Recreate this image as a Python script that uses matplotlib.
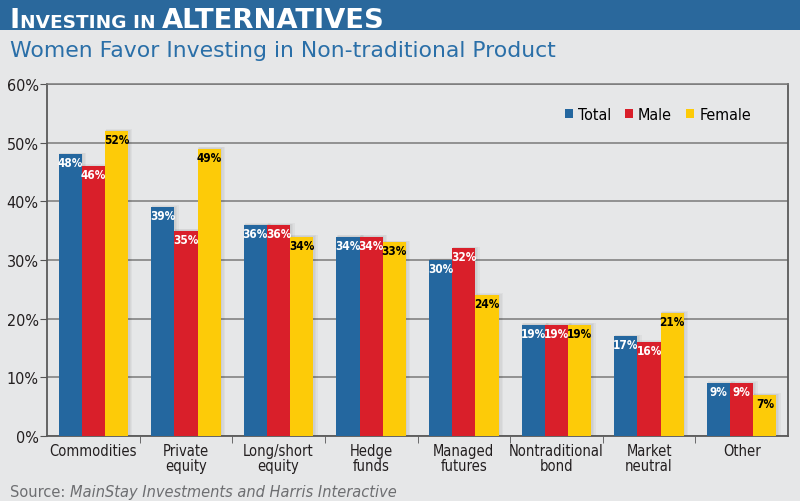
import numpy as np
import matplotlib.pyplot as plt
from matplotlib import font_manager
from matplotlib.font_manager import FontProperties
from matplotlib.patches import Rectangle, Patch

categories = ['Commodities', 'Private\nequity', 'Long/short\nequity', 'Hedge\nfunds',
              'Managed\nfutures', 'Nontraditional\nbond', 'Market\nneutral', 'Other']
total = [48, 39, 36, 34, 30, 19, 17, 9]
male = [46, 35, 36, 34, 32, 19, 16, 9]
female = [52, 49, 34, 33, 24, 19, 21, 7]
series_names = ['Total', 'Male', 'Female']
y_ticks = [0, 10, 20, 30, 40, 50, 60]

blue = '#24679f'
red = '#d91f2a'
yellow = '#fdcb08'
bg = '#e6e7e8'
ink = '#231f20'

# look for a condensed face, otherwise fall back to Roboto
cond_reg = cond_bold = None
for f in font_manager.fontManager.ttflist:
    fn = f.fname.lower()
    if ('condensed' in fn or 'narrow' in fn) and 'oblique' not in fn and 'italic' not in fn:
        if f.weight in ('bold', 700) or 'bold' in fn:
            cond_bold = cond_bold or f.fname
        else:
            cond_reg = cond_reg or f.fname
if cond_reg and cond_bold:
    lab_fp = lambda s: FontProperties(fname=cond_reg, size=s)
    bold_fp = lambda s: FontProperties(fname=cond_bold, size=s)
    tick_size, bar_size = 10.5, 8.5
else:
    lab_fp = lambda s: FontProperties(family='Roboto', size=s)
    bold_fp = lambda s: FontProperties(family='Roboto', weight='bold', size=s)
    tick_size, bar_size = 10, 8

fig = plt.figure(figsize=(8, 5.02), dpi=100, facecolor=bg)

# header band
fig.patches.append(Rectangle((0, 1 - 31 / 502), 1, 31 / 502, transform=fig.transFigure,
                             facecolor='#2a689c', edgecolor='none', zorder=0))

renderer = fig.canvas.get_renderer()

def put(x, y, s, **kw):
    t = fig.text(x / 800, 1 - y / 502, s, transform=fig.transFigure, va='baseline', **kw)
    return t, x + t.get_window_extent(renderer).width

def run(x, y, parts, target):
    # draw pieces side by side, then rescale so the whole line spans target px
    texts = []
    x0 = x
    for s, kw in parts:
        t, x = put(x, y, s, **kw)
        texts.append((t, kw['fontsize']))
    k = target / (x - x0)
    x = x0
    for t, fs in texts:
        t.set_fontsize(fs * k)
        t.set_x(x / 800)
        x += t.get_window_extent(renderer).width

hdr = dict(weight='bold', color='white', family='DejaVu Sans')
run(10, 28, [('I', dict(fontsize=17, **hdr)), ('NVESTING IN ', dict(fontsize=11.5, **hdr)),
             ('ALTERNATIVES', dict(fontsize=17, **hdr))], 375)

run(10, 57, [('Women Favor Investing in Non-traditional Product',
              dict(fontsize=14, color='#2a6fa8', family='DejaVu Sans'))], 545)

src = dict(color='#6d6e71', family='DejaVu Sans')
run(10, 497, [('Source: ', dict(fontsize=10, **src)),
              ('MainStay Investments and Harris Interactive', dict(fontsize=10, style='italic', **src))], 385)

ax = fig.add_axes([47 / 800, 1 - 437 / 502, 741 / 800, 352 / 502])
ax.set_facecolor(bg)

x = np.arange(len(categories))
w = 0.25
series = [total, male, female]
colors = [blue, red, yellow]
text_colors = ['white', 'white', 'black']

for i, (vals, c, tc) in enumerate(zip(series, colors, text_colors)):
    pos = x + (i - 1) * w
    # soft shadow
    for k in range(1, 4):
        ax.bar(pos + 0.01 * k, np.array(vals) + 0.1 * k, width=w + 0.012 * k, color='#000000',
               alpha=0.035, zorder=2, linewidth=0)
    bars = ax.bar(pos, vals, width=w, color=c, zorder=3, linewidth=0)
    for b, v in zip(bars, vals):
        ax.annotate(f'{v}%', (b.get_x() + b.get_width() / 2, v), xytext=(0, -1.5),
                    textcoords='offset points', ha='center', va='top',
                    fontproperties=bold_fp(bar_size), color=tc, zorder=4)

ax.set_xlim(-0.5, len(categories) - 0.5)
ax.set_ylim(0, 60)
ax.set_yticks(y_ticks)
ax.set_yticklabels([f'{v}%' for v in y_ticks], fontproperties=lab_fp(tick_size + 1), color=ink)
ax.yaxis.grid(True, color='#7a7a7a', linewidth=1.1, zorder=1)
ax.set_axisbelow(True)
ax.set_xticks(x)
ax.set_xticklabels(categories, fontproperties=lab_fp(tick_size), linespacing=1.0, color=ink)
ax.set_xticks(x[:-1] + 0.5, minor=True)
ax.tick_params(axis='x', which='major', length=0, pad=5)
ax.tick_params(axis='x', which='minor', length=5, color='#555555')
ax.tick_params(axis='y', length=5, color='#555555', pad=1)

for s in ['left', 'bottom', 'right']:
    ax.spines[s].set_color('#5a5a5a')
    ax.spines[s].set_linewidth(1.3)
ax.spines['top'].set_color('#7a7a7a')
ax.spines['top'].set_linewidth(1.1)

handles = [Patch(facecolor=c, edgecolor='none') for c in colors]
ax.legend(handles, series_names, loc='upper right', bbox_to_anchor=(0.95, 0.935), ncol=3,
          frameon=False, prop=lab_fp(tick_size + 1), handlelength=0.5,
          handleheight=0.5, handletextpad=0.3, columnspacing=0.9,
          borderaxespad=0, borderpad=0)

fig.savefig('out.png', dpi=100, facecolor=bg)
